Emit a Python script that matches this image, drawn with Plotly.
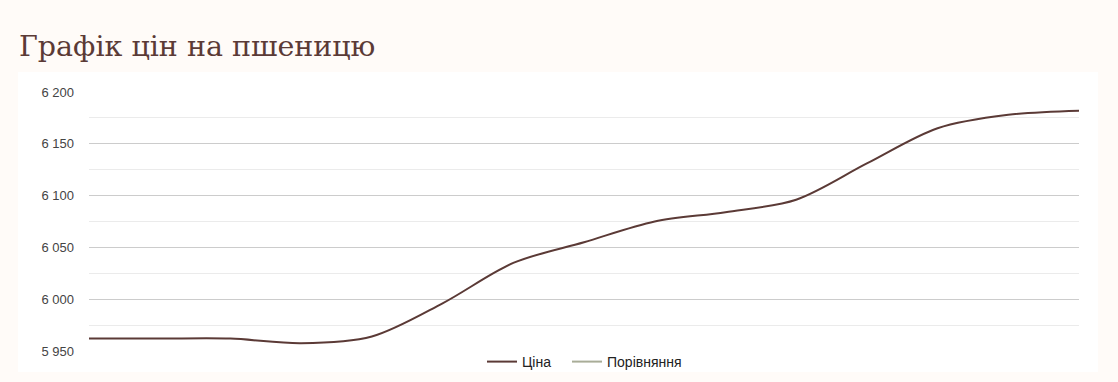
import plotly.graph_objects as go

# Data
dates = ["01.03", "02.03", "03.03", "04.03", "05.03", "06.03", "07.03", "08.03",
         "09.03", "10.03", "11.03", "12.03", "13.03", "14.03", "15.03"]
price = [5962, 5962, 5962, 5957.5, 5964, 5996, 6035, 6055, 6075, 6084, 6096, 6131, 6165, 6178, 6182]
compare = [None] * len(dates)
y_ticks = [5950, 6000, 6050, 6100, 6150, 6200]

W, H = 1118, 382
L, R, T, B = 89, 39, 92, 31
pw, ph = W - L - R, H - T - B

def px_x(x):
    return (x - L) / pw

def px_y(y):
    return (H - B - y) / ph

fig = go.Figure()
fig.add_trace(go.Scatter(x=dates, y=price, name="Ціна", mode="lines", legend="legend",
                         line=dict(color="#5b3a36", width=2, shape="spline", smoothing=0.9)))
fig.add_trace(go.Scatter(x=dates, y=compare, name="Порівняння", mode="lines", legend="legend2",
                         line=dict(color="#a9ad98", width=2)))

leg_common = dict(orientation="h", xanchor="left", y=px_y(362), yanchor="middle",
                  font=dict(family="Liberation Sans, Arial", size=14, color="#222222"),
                  bgcolor="rgba(0,0,0,0)", itemwidth=30)

fig.update_layout(
    width=W, height=H,
    margin=dict(l=L, r=R, t=T, b=B, autoexpand=False),
    paper_bgcolor="#fffbf8",
    plot_bgcolor="#ffffff",
    separators=". ",
    showlegend=True,
    legend=dict(x=px_x(482), **leg_common),
    legend2=dict(x=px_x(567), **leg_common),
    xaxis=dict(showticklabels=False, showgrid=False, zeroline=False, showline=False,
               ticks="", range=[0, len(dates) - 1], fixedrange=True),
    yaxis=dict(range=[5950, 6200], tickvals=y_ticks, tickformat=",d",
               showgrid=True, gridcolor="#cccccc", gridwidth=1, zeroline=False, showline=False,
               tickfont=dict(family="Liberation Sans, Arial", size=13, color="#444444"),
               ticks="", ticklabelstandoff=14,
               minor=dict(dtick=25, tick0=5950, showgrid=True, gridcolor="#ebebeb", gridwidth=1)),
    shapes=[dict(type="rect", xref="paper", yref="paper",
                 x0=px_x(18), x1=px_x(1098), y0=px_y(372), y1=px_y(72),
                 fillcolor="#ffffff", line=dict(width=0), layer="below")],
    annotations=[dict(text="Графік цін на пшеницю", xref="paper", yref="paper",
                      x=px_x(17), y=px_y(47), xanchor="left", yanchor="middle",
                      showarrow=False,
                      font=dict(family="DejaVu Serif", size=28.5, color="#5b3a36"))],
)

fig.write_html("out.html")
